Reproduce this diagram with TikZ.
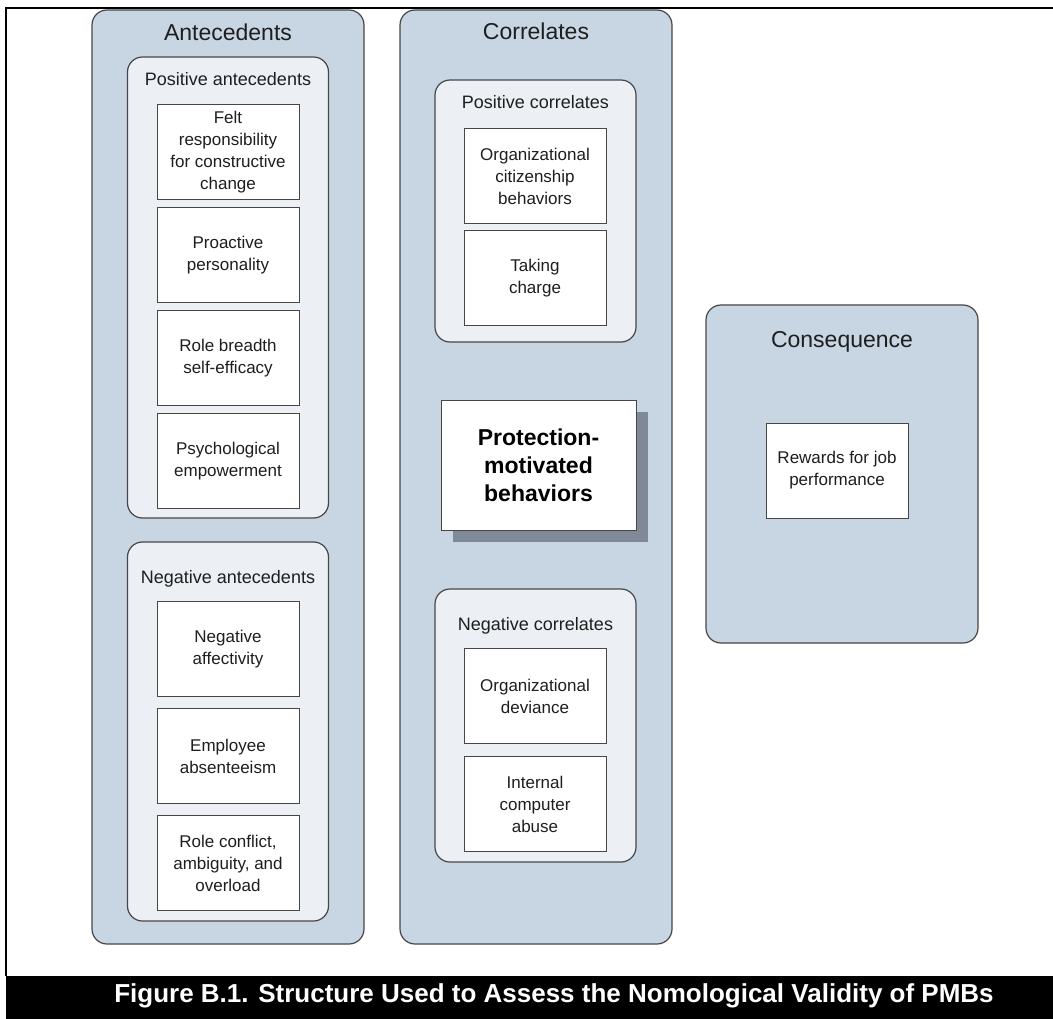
\documentclass[tikz,border=0pt]{standalone}
\usepackage{fontspec}
\setmainfont{Liberation Sans}
\definecolor{PanelBlue}{RGB}{200,214,228}
\definecolor{PanelPale}{RGB}{236,240,245}
\definecolor{EdgeGray}{RGB}{70,70,70}
\definecolor{ShadeGray}{RGB}{128,138,150}
\definecolor{InkGray}{RGB}{30,30,30}
\usetikzlibrary{positioning, shadows}

\begin{document}
\begin{tikzpicture}[
            x=1pt, y=-1pt,
            group/.style={rectangle, rounded corners=15pt, draw=EdgeGray, line width=1.2pt,
                          fill=PanelBlue, minimum width=272pt, inner sep=0pt},
            subgroup/.style={rectangle, rounded corners=15pt, draw=EdgeGray, line width=1.2pt,
                             fill=PanelPale, minimum width=201pt, inner sep=0pt},
            item/.style={rectangle, draw=EdgeGray, line width=1pt, fill=white,
                         minimum width=142pt, minimum height=95pt, inner sep=0pt,
                         align=center, text=InkGray, font=\fontsize{17}{22}\selectfont},
            core/.style={rectangle, draw=EdgeGray, line width=1pt, fill=white,
                         minimum width=195pt, minimum height=130pt, inner sep=0pt,
                         align=center, font=\bfseries\fontsize{23}{28}\selectfont,
                         drop shadow={shadow xshift=12pt, shadow yshift=-12pt,
                                      fill=ShadeGray, opacity=1}},
            heading/.style={anchor=base, text=InkGray, font=\fontsize{23}{28}\selectfont},
            subheading/.style={anchor=base, text=InkGray, font=\fontsize{18}{22}\selectfont}
        ]
            \useasboundingbox (0,0) rectangle (1053,1019);

            % frame and caption bar
            \draw[line width=2pt] (1053,8) -- (6,8) -- (6,976);
            \fill[black] (6,976) rectangle (1053,1019);
            \node[anchor=base, text=white, font=\bfseries\fontsize{26}{30}\selectfont] (caption) at (554,1002)
                {Figure B.1. Structure Used to Assess the Nomological Validity of PMBs};

            % antecedents
            \node[group, minimum height=934pt] (ante) at (228,477) {};
            \node[heading] (antetitle) at (228,41) {Antecedents};
            \node[subgroup, minimum height=461pt] (posante) at (228,287.5) {};
            \node[subheading] (posantetitle) at (228,86) {Positive antecedents};
            \node[item, anchor=north] (felt) at (228,104) {Felt\\responsibility\\for constructive\\change};
            \node[item, below=7pt of felt] (proactive) {Proactive\\personality};
            \node[item, below=7pt of proactive] (breadth) {Role breadth\\self-efficacy};
            \node[item, below=7pt of breadth] (empower) {Psychological\\empowerment};
            \node[subgroup, minimum height=379pt] (negante) at (228,731.5) {};
            \node[subheading] (negantetitle) at (228,583) {Negative antecedents};
            \node[item, anchor=north] (affect) at (228,601) {Negative\\affectivity};
            \node[item, below=11pt of affect] (absent) {Employee\\absenteeism};
            \node[item, below=11pt of absent] (conflict) {Role conflict,\\ambiguity, and\\overload};

            % correlates
            \node[group, minimum height=934pt] (corr) at (536,477) {};
            \node[heading] (corrtitle) at (536,40) {Correlates};
            \node[subgroup, minimum height=262pt] (poscorr) at (535.5,211) {};
            \node[subheading] (poscorrtitle) at (535.5,109) {Positive correlates};
            \node[item, anchor=north] (ocb) at (535,128) {Organizational\\citizenship\\behaviors};
            \node[item, below=6pt of ocb] (charge) {Taking\\charge};
            \node[core] (pmb) at (538.5,465) {Protection-\\motivated\\behaviors};
            \node[subgroup, minimum height=273pt] (negcorr) at (535.5,725.5) {};
            \node[subheading] (negcorrtitle) at (535.5,630) {Negative correlates};
            \node[item, anchor=north] (deviance) at (535,648) {Organizational\\deviance};
            \node[item, below=12pt of deviance] (abuse) {Internal\\computer\\abuse};

            % consequence
            \node[group, minimum height=338pt] (conseq) at (842,474) {};
            \node[heading] (conseqtitle) at (842,348) {Consequence};
            \node[item] (rewards) at (837,470.5) {Rewards for job\\performance};
        \end{tikzpicture}
\end{document}
